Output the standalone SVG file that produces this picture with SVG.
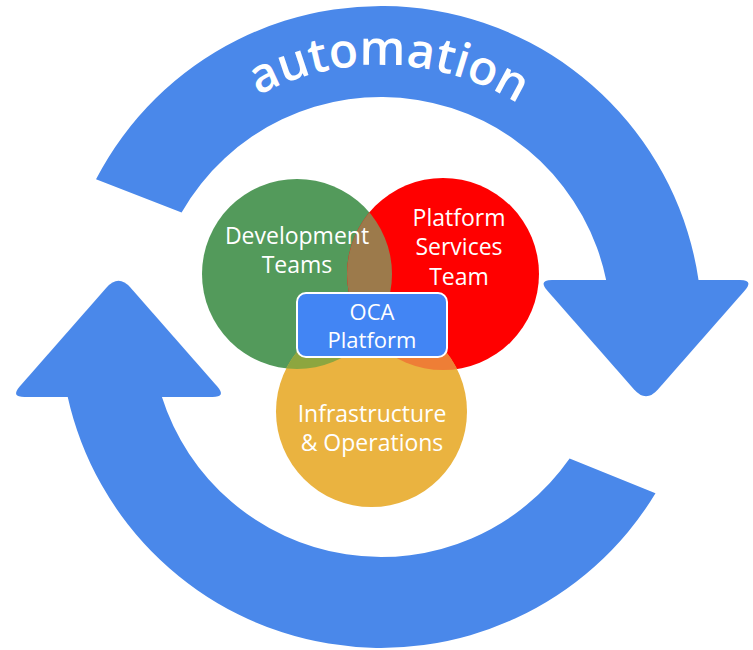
<svg xmlns="http://www.w3.org/2000/svg" width="753" height="650" viewBox="0 0 753 650">
<style>
.ring{fill:#4A88EA}
.lbl{font-family:"Open Sans","Liberation Sans",sans-serif;font-size:23px;fill:#ffffff;text-anchor:middle}
.box{font-family:"Open Sans","Liberation Sans",sans-serif;font-size:22px;fill:#ffffff;text-anchor:middle}
.auto{font-family:"Open Sans","Liberation Sans",sans-serif;font-size:48px;font-weight:600;fill:#ffffff}
</style>
<defs>
<clipPath id="cg"><circle cx="297" cy="274" r="95"/></clipPath>
<clipPath id="cr"><circle cx="443" cy="274" r="96"/></clipPath>
<path id="txtarc" d="M 119,327 A 262 262 0 0 1 643,327"/>
</defs>
<rect width="753" height="650" fill="#ffffff"/>
<g id="connectors">
<path class="ring" d="M 96,179.3 A 321 321 0 0 1 698.7,281 L 606.4,281 A 230 230 0 0 0 181.6,212.4 Z"/>
<path class="ring" d="M 552,280 L 740,280 Q 754,280 744.8,290.5 L 657.9,389.5 Q 646,403 634.1,389.5 L 547.2,290.5 Q 538,280 552,280 Z"/>
<path class="ring" d="M 67.5,396 A 321 321 0 0 0 655.5,493.3 L 569.6,458.6 A 230 230 0 0 1 161.6,396 Z"/>
<path class="ring" d="M 24.5,397 L 212.5,397 Q 226.5,397 217.3,386.5 L 130.4,287.5 Q 118.5,274 106.6,287.5 L 19.7,386.5 Q 10.5,397 24.5,397 Z"/>
<text class="auto"><textPath href="#txtarc" startOffset="51%" text-anchor="middle">automation</textPath></text>
</g>
<g id="dev-teams">
<circle cx="297" cy="274" r="95" fill="#539A5B"/>
</g>
<g id="platform-services-team">
<circle cx="443" cy="274" r="96" fill="#FF0000"/>
<circle cx="443" cy="274" r="96" fill="#9C7A4B" clip-path="url(#cg)"/>
</g>
<g id="infra-ops">
<circle cx="371.5" cy="411.5" r="95.5" fill="#EAB340"/>
<circle cx="371.5" cy="411.5" r="95.5" fill="#8DA63F" clip-path="url(#cg)"/>
<circle cx="371.5" cy="411.5" r="95.5" fill="#EE7E36" clip-path="url(#cr)"/>
<text class="lbl" x="372" y="422">Infrastructure</text>
<text class="lbl" x="372" y="451">&amp; Operations</text>
</g>
<g id="labels">
<text class="lbl" x="297" y="244">Development</text>
<text class="lbl" x="297" y="273">Teams</text>
<text class="lbl" x="459" y="226">Platform</text>
<text class="lbl" x="459" y="255">Services</text>
<text class="lbl" x="459" y="285">Team</text>
</g>
<g id="oca-platform">
<rect x="297" y="293" width="150" height="64" rx="9" fill="#4285F4" stroke="#ffffff" stroke-width="2"/>
<text class="box" x="372" y="320">OCA</text>
<text class="box" x="372" y="348">Platform</text>
</g>
</svg>
